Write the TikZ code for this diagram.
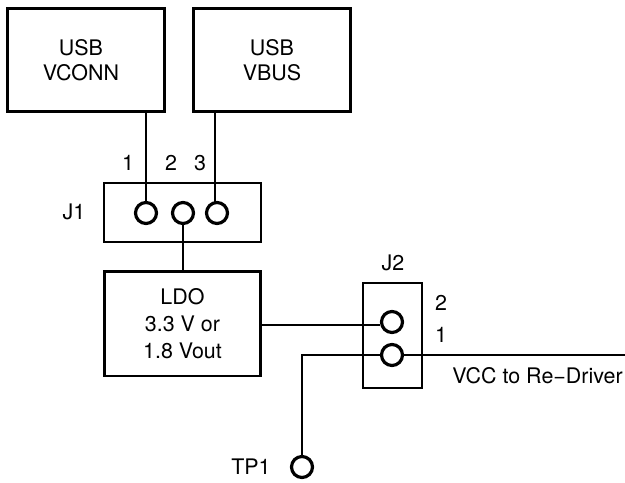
\documentclass[tikz,border=0pt]{standalone}
\usepackage{fontspec}
\setmainfont{TeX Gyre Heros}
\tikzset{
	blk/.style={draw,line width=1.7pt,minimum width=3.16cm,inner sep=0pt,align=center,font=\fontsize{12.2}{14.2}\selectfont},
	jumper/.style={draw,line width=1.6pt,inner sep=0pt},
	pin/.style={circle,draw,line width=1.8pt,fill=white,minimum size=0.42cm,inner sep=0pt},
	lbl/.style={inner sep=0pt,font=\fontsize{12.2}{14}\selectfont},
	wire/.style={line width=1.7pt}
}
\begin{document}
\begin{tikzpicture}[x=0.02cm,y=-0.02cm]
\useasboundingbox (0,0) rectangle (625,483);
% Supplies
\node[blk,minimum height=2.08cm] (vconn) at (86,60) {\hspace*{-0.2cm}USB\\\hspace*{-0.2cm}VCONN};
\node[blk,minimum height=2.08cm] (vbus) at (272,60) {USB\\VBUS};
% J1
\node[jumper,minimum width=3.14cm,minimum height=1.18cm] (j1) at (182.5,212.5) {};
\node[pin] (p1) at (146,213) {};
\node[pin] (p2) at (183,213) {};
\node[pin] (p3) at (217,213) {};
\node[lbl] (j1lbl) at (74,212) {J1};
\node[lbl] (n1) at (128,163) {1};
\node[lbl] (n2) at (171,163) {2};
\node[lbl] (n3) at (200,163) {3};
% LDO
\node[blk,minimum width=3.14cm,minimum height=2.1cm,font=\fontsize{12.2}{15.3}\selectfont] (ldo) at (182.5,323.5) {LDO\\3.3 V or\\1.8 Vout};
% J2
\node[jumper,minimum width=1.18cm,minimum height=2.1cm] (j2) at (392.5,335.5) {};
\node[pin] (q2) at (392,322) {};
\node[pin] (q1) at (392,355) {};
\node[lbl] (j2lbl) at (393,263) {J2};
\node[lbl] (m2) at (441,303) {2};
\node[lbl] (m1) at (441,335) {1};
% TP1
\node[pin] (tp) at (302,467) {};
\node[lbl] (tplbl) at (251,467) {TP1};
\node[lbl,anchor=east] (vcc) at (623,376) {VCC to Re−Driver};
\coordinate (out) at (625,355);
% Wires
\draw[wire] (vconn.south -| 146,0) -- (p1.north);
\draw[wire] (vbus.south -| 215,0) -- (215,203);
\draw[wire] (p2.south) -- (ldo.north -| p2);
\draw[wire] (ldo.east |- 0,325) -- (q2.west |- 0,325);
\draw[wire] (tp.north) -- (tp.north |- q1) -- (q1.west);
\draw[wire] (q1.east) -- (out);
\end{tikzpicture}
\end{document}
